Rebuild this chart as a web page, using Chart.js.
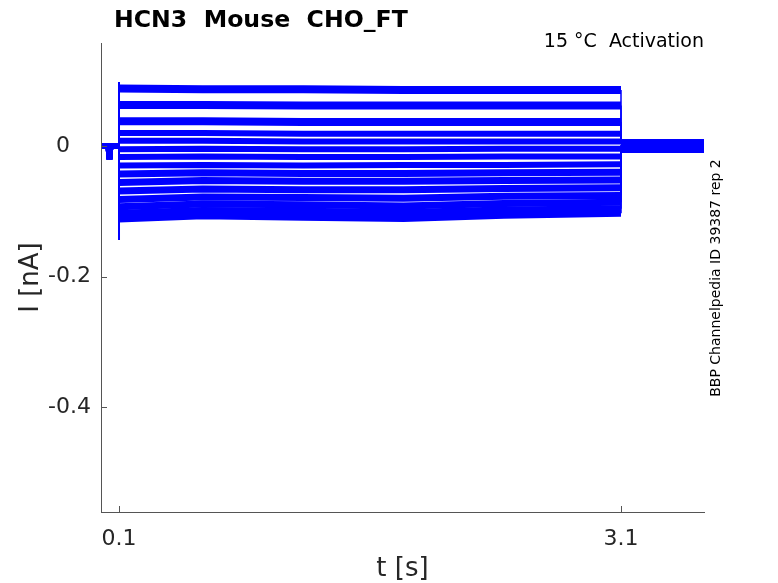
<!DOCTYPE html>
<html>
<head>
<meta charset="utf-8">
<script src="https://cdn.jsdelivr.net/npm/chart.js@4.4.1/dist/chart.umd.min.js"></script>
<style>
  html, body { margin: 0; padding: 0; background: #fff; }
</style>
</head>
<body>
<canvas id="myChart" width="778" height="583"></canvas>
<script>
// holding segment before the step (same for every sweep)
var holdTimes = [0, 0.038, 0.043, 0.048, 0.1];
var holdValues = [0, 0, -0.02, 0, 0];

var stepTimes = [0.1, 0.6, 1.2, 1.8, 2.4, 3.1];

// current (nA) for each sweep during the step, at stepTimes
var stepLevels = [
    [0.088, 0.087, 0.087, 0.086, 0.086, 0.086],
    [0.063, 0.063, 0.062, 0.062, 0.062, 0.062],
    [0.038, 0.038, 0.037, 0.037, 0.037, 0.037],
    [0.020, 0.020, 0.019, 0.019, 0.019, 0.019],
    [0.008, 0.008, 0.007, 0.007, 0.007, 0.007],
    [-0.005, -0.004, -0.005, -0.005, -0.004, -0.004],
    [-0.017, -0.016, -0.017, -0.017, -0.016, -0.016],
    [-0.030, -0.029, -0.030, -0.029, -0.029, -0.028],
    [-0.043, -0.041, -0.042, -0.042, -0.041, -0.040],
    [-0.056, -0.053, -0.054, -0.054, -0.053, -0.052],
    [-0.069, -0.066, -0.067, -0.067, -0.065, -0.064],
    [-0.082, -0.078, -0.079, -0.080, -0.077, -0.076],
    [-0.093, -0.089, -0.090, -0.092, -0.088, -0.086],
    [-0.103, -0.099, -0.100, -0.102, -0.098, -0.096],
    [-0.112, -0.107, -0.109, -0.111, -0.106, -0.103]
];

// tail current (nA) after the step, 3.1 s to 3.6 s
var tailTimes = [3.1, 3.6];
var tailLevels = [0.007, 0.006, 0.005, 0.004, 0.003, 0.002, 0.001, 0.0,
                  -0.001, -0.002, -0.003, -0.004, -0.005, -0.006, -0.007];

// capacitive transient at step onset
var transientTimes = [0.1, 0.1];
var transientValues = [0.098, -0.144];

var xTicks = [0.1, 3.1];
var yTicks = [-0.4, -0.2, 0];

Chart.defaults.font.family = "'DejaVu Sans', sans-serif";
Chart.defaults.color = '#262626';

var axisColor = '#555555';

// builds the {x,y} points of one sweep
function sweepPoints(k){
    var pts = [];
    for (var i = 0; i < holdTimes.length; i++) {
        pts.push({x: holdTimes[i], y: holdValues[i]});
    }
    for (var j = 0; j < stepTimes.length; j++) {
        pts.push({x: stepTimes[j], y: stepLevels[k][j]});
    }
    for (var m = 0; m < tailTimes.length; m++) {
        pts.push({x: tailTimes[m], y: tailLevels[k]});
    }
    return pts;
}

// thin vertical jumps, thinner hold/tail, thick noisy band during the step
function segWidth(stepWidth){
    return function(s){
        var x0 = s.p0.parsed.x, x1 = s.p1.parsed.x;
        if (x0 === x1) return 1.5;
        if (x1 <= 0.1) return 6;
        if (x0 >= 3.1) return 5;
        return stepWidth;
    };
}

var datasets = [];
for (var k = 0; k < stepLevels.length; k++) {
    var w = k < 3 ? 8 : (k < 8 ? 6 : 7);
    datasets.push({
        data: sweepPoints(k),
        borderColor: 'rgb(0, 0, 255)',
        borderWidth: w,
        borderJoinStyle: 'bevel',
        segment: { borderWidth: segWidth(w) },
        pointRadius: 0,
        tension: 0,
        fill: false
    });
}
datasets.push({
    data: transientTimes.map(function(t, i){ return {x: t, y: transientValues[i]}; }),
    borderColor: 'rgb(0, 0, 255)',
    borderWidth: 2,
    pointRadius: 0
});

// inward tick marks and the text around the axes
var decorations = {
    id: 'decorations',
    afterDraw: function(chart){
        var c = chart.ctx;
        var xs = chart.scales.x, ys = chart.scales.y;
        var area = chart.chartArea;
        c.save();
        c.strokeStyle = axisColor;
        c.lineWidth = 1;
        c.beginPath();
        xTicks.forEach(function(v){
            var px = Math.round(xs.getPixelForValue(v)) + 0.5;
            c.moveTo(px, area.bottom);
            c.lineTo(px, area.bottom - 6);
        });
        yTicks.forEach(function(v){
            var py = Math.round(ys.getPixelForValue(v)) + 0.5;
            c.moveTo(area.left, py);
            c.lineTo(area.left + 6, py);
        });
        c.stroke();

        c.fillStyle = '#000';
        c.textBaseline = 'alphabetic';
        c.textAlign = 'left';
        c.font = "bold 23.6px 'DejaVu Sans'";
        c.fillText('HCN3  Mouse  CHO_FT', 114, 27);

        c.textAlign = 'right';
        c.font = "19px 'DejaVu Sans'";
        c.fillText('15 °C  Activation', 704, 47);

        c.translate(716, 278);
        c.rotate(-Math.PI / 2);
        c.textAlign = 'center';
        c.textBaseline = 'middle';
        c.font = "14px 'DejaVu Sans'";
        c.fillText('BBP Channelpedia ID 39387 rep 2', 0, 0);
        c.restore();
    }
};

var ctx = document.getElementById('myChart').getContext('2d');
var chart = new Chart(ctx, {
    type: 'line',
    data: { datasets: datasets },
    options: {
        responsive: false,
        animation: false,
        layout: { padding: { top: 43, right: 74, left: 0, bottom: 0 } },
        plugins: { legend: { display: false }, tooltip: { enabled: false } },
        scales: {
            x: {
                type: 'linear',
                min: -0.0076,
                max: 3.596,
                afterBuildTicks: function(scale){
                    scale.ticks = xTicks.map(function(v){ return {value: v}; });
                },
                afterFit: function(scale){ scale.height = 71; },
                grid: { display: false },
                border: { display: true, color: axisColor, width: 1 },
                ticks: {
                    font: { size: 22 },
                    padding: 6,
                    maxRotation: 0,
                    callback: function(v){ return String(v); }
                },
                title: {
                    display: true,
                    text: 't [s]',
                    font: { size: 26 },
                    padding: { top: 0, bottom: -2 }
                }
            },
            y: {
                min: -0.5609,
                max: 0.1579,
                afterBuildTicks: function(scale){
                    scale.ticks = yTicks.map(function(v){ return {value: v}; });
                },
                afterFit: function(scale){ scale.width = 101; },
                grid: { display: false },
                border: { display: true, color: axisColor, width: 1 },
                ticks: {
                    font: { size: 22 },
                    padding: 2,
                    callback: function(v){ return v === 0 ? '0   ' : String(v); }
                },
                title: {
                    display: true,
                    text: 'I [nA]',
                    font: { size: 26 },
                    padding: { top: 16, bottom: 0 }
                }
            }
        }
    },
    plugins: [decorations]
});
</script>
</body>
</html>
